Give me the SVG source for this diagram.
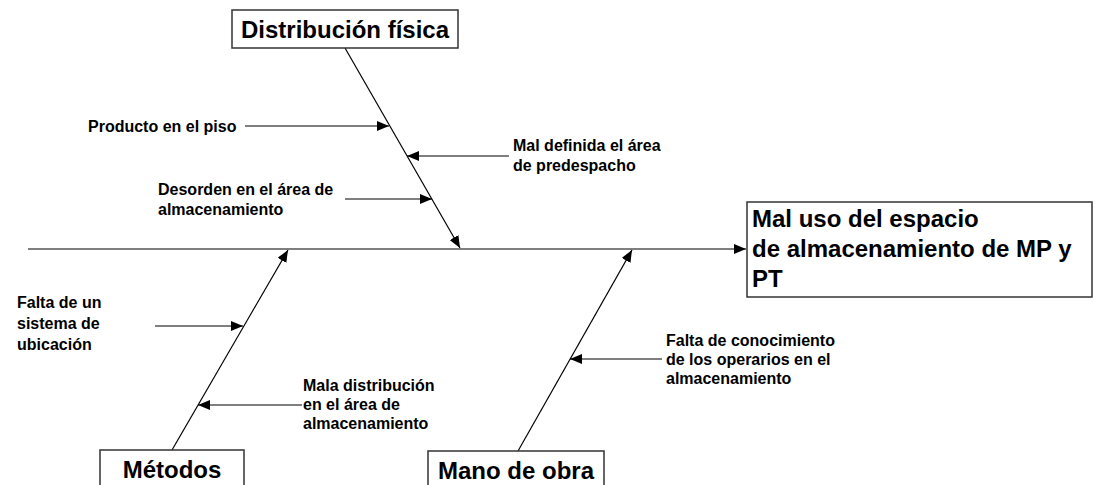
<svg xmlns="http://www.w3.org/2000/svg" width="1097" height="485" viewBox="0 0 1097 485">
  <style>
    .box { fill: #ffffff; stroke: #333333; stroke-width: 1.5; }
    .title { font-family: "Liberation Sans", Arial, sans-serif; font-weight: bold; font-size: 24px; fill: #000000; }
    .lbl { font-family: "Liberation Sans", Arial, sans-serif; font-weight: bold; font-size: 16px; fill: #000000; }
    .ln { stroke: #000000; stroke-width: 1.2; fill: none; marker-end: url(#ah); }
  </style>
  <defs>
    <marker id="ah" markerUnits="userSpaceOnUse" markerWidth="12" markerHeight="10" refX="12" refY="5" orient="auto">
      <path d="M0,0 L12,5 L0,10 Z" fill="#000000"/>
    </marker>
  </defs>
  <rect width="1097" height="485" fill="#ffffff"/>

  <g id="connectors">
    <line class="ln" x1="28" y1="249" x2="746" y2="249"/>
    <line class="ln" x1="345" y1="48" x2="460" y2="248"/>
    <line class="ln" x1="172" y1="450" x2="288" y2="250"/>
    <line class="ln" x1="518" y1="451" x2="632" y2="250"/>
    <line class="ln" x1="245" y1="126" x2="389" y2="126"/>
    <line class="ln" x1="509" y1="156" x2="407" y2="156"/>
    <line class="ln" x1="345" y1="199" x2="432" y2="199"/>
    <line class="ln" x1="155" y1="326" x2="243" y2="326"/>
    <line class="ln" x1="302" y1="405" x2="198" y2="405"/>
    <line class="ln" x1="662" y1="359" x2="570" y2="359"/>
  </g>

  <g id="node-distribucion">
    <rect class="box" x="232" y="10" width="226" height="38"/>
    <text class="title" x="345" y="38" text-anchor="middle">Distribución física</text>
  </g>

  <g id="node-efecto">
    <rect class="box" x="747" y="202" width="345" height="95"/>
    <text class="title" x="752" y="227">Mal uso del espacio</text>
    <text class="title" x="752" y="257">de almacenamiento de MP y</text>
    <text class="title" x="752" y="287">PT</text>
  </g>

  <g id="node-metodos">
    <rect class="box" x="100" y="450" width="144" height="50"/>
    <text class="title" x="172" y="478" text-anchor="middle">Métodos</text>
  </g>

  <g id="node-mano">
    <rect class="box" x="428" y="451" width="176" height="50"/>
    <text class="title" x="516" y="479" text-anchor="middle">Mano de obra</text>
  </g>

  <g id="cause-producto">
    <text class="lbl" x="88" y="132">Producto en el piso</text>
  </g>
  <g id="cause-mal-definida">
    <text class="lbl" x="513" y="151">Mal definida el área</text>
    <text class="lbl" x="513" y="171">de predespacho</text>
  </g>
  <g id="cause-desorden">
    <text class="lbl" x="158" y="195">Desorden en el área de</text>
    <text class="lbl" x="158" y="215">almacenamiento</text>
  </g>
  <g id="cause-falta-sistema">
    <text class="lbl" x="17" y="308">Falta de un</text>
    <text class="lbl" x="17" y="329">sistema de</text>
    <text class="lbl" x="17" y="350">ubicación</text>
  </g>
  <g id="cause-mala-distribucion">
    <text class="lbl" x="303" y="391">Mala distribución</text>
    <text class="lbl" x="303" y="410">en el área de</text>
    <text class="lbl" x="303" y="429">almacenamiento</text>
  </g>
  <g id="cause-falta-conocimiento">
    <text class="lbl" x="666" y="346">Falta de conocimiento</text>
    <text class="lbl" x="666" y="365">de los operarios en el</text>
    <text class="lbl" x="666" y="384">almacenamiento</text>
  </g>
</svg>
